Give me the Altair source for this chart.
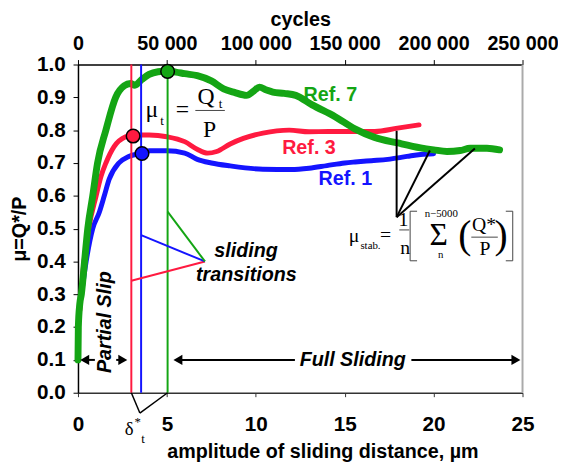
import altair as alt
import pandas as pd

SANS = "Liberation Sans"
SERIF = "Liberation Serif"
GREEN = "#14a514"
RED = "#ff1a40"
BLUE = "#1414ff"

# ---- data (x = amplitude of sliding distance in um, y = mu) ----
green_x = [0, 0.02, 0.1, 0.19, 0.37, 0.55, 0.83, 1.1, 1.57, 2.12, 2.6, 2.95, 3.2, 3.6, 4.0, 4.5,
           5.04, 5.5, 6, 6.71, 7.5, 8.19, 8.8, 9.48, 9.9, 10.2, 10.6, 10.96, 11.6, 12.25, 13.17,
           14.46, 15.57, 16.68, 17.98, 19.27, 20.0, 20.75, 21.5, 22.05, 23.0, 23.71]
green_y = [0.10, 0.2, 0.27, 0.3, 0.4, 0.5, 0.6, 0.7, 0.8, 0.9, 0.935, 0.942, 0.937, 0.955, 0.97,
           0.978, 0.98, 0.977, 0.972, 0.966, 0.95, 0.926, 0.915, 0.906, 0.92, 0.931, 0.922,
           0.916, 0.912, 0.906, 0.877, 0.841, 0.804, 0.778, 0.761, 0.746, 0.74, 0.735, 0.738,
           0.745, 0.745, 0.74]

red_x = [0.1, 0.3, 0.6, 1.02, 1.3, 1.57, 2.03, 2.68, 3.1, 4, 5, 6, 6.7, 7.3, 7.8, 8.56, 9.3,
         10.4, 11.88, 13, 14.1, 15.9, 16.69, 17.97, 19.18]
red_y = [0.25, 0.38, 0.5, 0.6, 0.66, 0.7, 0.75, 0.78, 0.785, 0.785, 0.78, 0.765, 0.742, 0.73,
         0.735, 0.758, 0.775, 0.791, 0.8, 0.795, 0.796, 0.796, 0.796, 0.806, 0.816]

blue_x = [0.2, 0.46, 0.83, 1.2, 1.48, 1.75, 2.3, 2.86, 3.6, 4, 5, 6, 6.71, 7.5, 8.56, 10.4, 12.0,
          13, 14, 15, 15.58, 16.5, 17.42, 18.5, 19.27, 20.0]
blue_y = [0.3, 0.4, 0.5, 0.55, 0.6, 0.65, 0.7, 0.72, 0.73, 0.737, 0.737, 0.73, 0.711, 0.7,
          0.691, 0.681, 0.68, 0.684, 0.692, 0.7, 0.703, 0.707, 0.711, 0.72, 0.726, 0.728]

x_ticks = [0, 5, 10, 15, 20, 25]
y_ticks = [0.0, 0.1, 0.2, 0.3, 0.4, 0.5, 0.6, 0.7, 0.8, 0.9, 1.0]
cycle_ticks = [0, 50000, 100000, 150000, 200000, 250000]

# transition points (delta*_t) and mu_t markers
trans_x = [3.0, 3.55, 5.04]
marker_x = [3.1, 3.6, 5.04]
marker_y = [0.782, 0.729, 0.979]

# ---- shared encodings ----
X = alt.X("x:Q", scale=alt.Scale(domain=[0, 25], nice=False, zero=False),
          axis=alt.Axis(values=x_ticks, format="d", title="amplitude of sliding distance, µm",
                        labelFont=SANS, labelFontSize=21, labelFontWeight="bold", labelColor="black",
                        titleFont=SANS, titleFontSize=20, titleFontWeight="bold", titleColor="black",
                        titleX=248, titlePadding=8, labelPadding=17, tickSize=4, tickColor="#333",
                        domainColor="#333", domainWidth=1.5, grid=False, labelOverlap=False,
                        labelFlush=False))
Y = alt.Y("y:Q", scale=alt.Scale(domain=[0, 1], nice=False),
          axis=alt.Axis(values=y_ticks, format=".1f", title="μ=Q*/P",
                        labelFont=SANS, labelFontSize=21, labelFontWeight="bold", labelColor="black",
                        titleFont=SANS, titleFontSize=20, titleFontWeight="bold", titleColor="black",
                        titlePadding=7, labelPadding=8, tickSize=5, tickColor="black",
                        domainColor="black", domainWidth=1.5, grid=False, labelOverlap=False))


def curve(xs, ys, color, w):
    df = pd.DataFrame({"x": xs, "y": ys})
    return alt.Chart(df).mark_line(color=color, strokeWidth=w, strokeCap="round",
                                   strokeJoin="round", interpolate="monotone").encode(x=X, y=Y)


def txt(rows, size, color="black", font=SANS, weight="bold", style="normal", angle=0, align="center"):
    df = pd.DataFrame(rows, columns=["x", "y", "t"])
    kw = dict(font=font, fontSize=size, fontWeight=weight, fontStyle=style, color=color,
              align=align, baseline="middle")
    if angle:
        kw["angle"] = angle
    return alt.Chart(df).mark_text(**kw).encode(x=X, y=Y, text="t:N")


# ---- line segments ----
seg_rows = [
    # vertical transition lines
    (trans_x[0], 0, trans_x[0], 1.0, RED, 2),
    (trans_x[1], 0, trans_x[1], 1.0, BLUE, 2),
    (trans_x[2], 0, trans_x[2], 0.98, GREEN, 2),
    # sliding transitions pointers
    (7.14, 0.40, trans_x[0], 0.341, RED, 2),
    (7.14, 0.40, trans_x[1], 0.48, BLUE, 2),
    (7.14, 0.40, trans_x[2], 0.552, GREEN, 2),
    # delta*_t pointer below axis
    (trans_x[0], 0, 3.48, -0.062, "black", 1.5),
    (trans_x[2], 0, 3.48, -0.062, "black", 1.5),
    # mu_stab pointers
    (17.92, 0.535, 17.92, 0.798, "black", 2),
    (17.92, 0.535, 19.79, 0.738, "black", 2),
    (17.92, 0.535, 22.32, 0.744, "black", 2),
    # arrows
    (5.6, 0.1, 12.2, 0.1, "black", 2),
    (18.75, 0.1, 24.6, 0.1, "black", 2),
    (0.35, 0.1, 0.95, 0.1, "black", 2),
    (2.15, 0.1, 2.55, 0.1, "black", 2),
    # fraction bars
    (6.6, 0.86, 8.26, 0.86, "#444", 1),
    (18.07, 0.496, 18.63, 0.496, "#444", 1),
    (22.12, 0.474, 23.61, 0.474, "#444", 1),
    # square brackets
    (18.68, 0.553, 18.68, 0.402, "#444", 1),
    (18.68, 0.553, 19.07, 0.553, "#444", 1),
    (18.68, 0.402, 19.07, 0.402, "#444", 1),
    (24.45, 0.553, 24.45, 0.402, "#444", 1),
    (24.06, 0.553, 24.45, 0.553, "#444", 1),
    (24.06, 0.402, 24.45, 0.402, "#444", 1),
    # right frame
    (25, 0, 25, 1.0, "#aaa", 2),
]
segs = pd.DataFrame(seg_rows, columns=["x", "y", "x2", "y2", "c", "w"])
seg_layer = alt.Chart(segs).mark_rule().encode(
    x=X, y=Y, x2="x2:Q", y2="y2:Q",
    color=alt.Color("c:N", scale=None), strokeWidth=alt.StrokeWidth("w:Q", scale=None))

heads = pd.DataFrame({"x": [0.38, 2.52, 5.62, 24.63], "y": [0.1, 0.1, 0.1, 0.1],
                      "s": ["triangle-left", "triangle-right", "triangle-left", "triangle-right"]})
head_layer = alt.Chart(heads).mark_point(filled=True, color="black", opacity=1, size=110).encode(
    x=X, y=Y, shape=alt.Shape("s:N", scale=None))

markers = pd.DataFrame({"x": marker_x, "y": marker_y, "c": [RED, BLUE, GREEN]})
marker_layer = alt.Chart(markers).mark_circle(size=190, stroke="black", strokeWidth=1.5, opacity=1).encode(
    x=X, y=Y, fill=alt.Fill("c:N", scale=None))

texts = [
    txt([(14.19, 0.906, "Ref. 7")], 20, GREEN),
    txt([(12.99, 0.746, "Ref. 3")], 20, RED),
    txt([(15.04, 0.65, "Ref. 1")], 20, BLUE),
    txt([(9.45, 0.432, "sliding"), (9.47, 0.357, "transitions")], 20, style="italic"),
    txt([(15.45, 0.1, "Full Sliding")], 20, style="italic"),
    txt([(1.55, 0.215, "Partial Slip")], 20, style="italic", angle=270),
    # mu_t = Q_t / P
    txt([(4.16, 0.862, "μ"), (5.88, 0.862, "="), (7.2, 0.902, "Q"), (7.4, 0.8, "P")], 24,
        font=SERIF, weight="normal"),
    txt([(4.72, 0.828, "t"), (8.02, 0.88, "t")], 13, font=SERIF, weight="normal"),
    # mu_stab formula
    txt([(15.52, 0.477, "μ"), (17.3, 0.48, "="), (18.3, 0.526, "1"), (18.4, 0.44, "n"),
         (22.84, 0.51, "Q*"), (22.89, 0.437, "P")], 20, font=SERIF, weight="normal"),
    txt([(16.45, 0.447, "stab."), (20.43, 0.545, "n−5000"), (20.4, 0.42, "n")], 11,
        font=SERIF, weight="normal"),
    txt([(20.29, 0.48, "Σ")], 32, font=SERIF, weight="normal"),
    txt([(21.75, 0.477, "("), (23.8, 0.477, ")")], 40, font=SERIF, weight="normal"),
    # delta*_t
    txt([(2.88, -0.11, "δ")], 19, font=SERIF, weight="normal"),
    txt([(3.36, -0.088, "*"), (3.66, -0.14, "t")], 13, font=SERIF, weight="normal"),
]

main = alt.layer(
    curve(blue_x, blue_y, BLUE, 5),
    curve(red_x, red_y, RED, 5),
    curve(green_x, green_y, GREEN, 7),
    seg_layer, head_layer, marker_layer, *texts)

top = alt.Chart(pd.DataFrame({"c": [0, 250000], "y": [0, 0]})).mark_point(opacity=0).encode(
    x=alt.X("c:Q", scale=alt.Scale(domain=[0, 250000], nice=False, zero=False),
            axis=alt.Axis(orient="top", values=cycle_ticks, title="cycles",
                          labelExpr="replace(format(datum.value, ','), ',', ' ')",
                          labelFont=SANS, labelFontSize=20, labelFontWeight="bold", labelColor="black",
                          titleFont=SANS, titleFontSize=20, titleFontWeight="bold", titleColor="black",
                          titlePadding=5, labelPadding=6, tickSize=5, tickColor="black",
                          domainColor="black", domainWidth=1.5, grid=False, labelOverlap=False,
                          labelFlush=False)),
    y=Y)

chart = alt.layer(main, top).resolve_scale(x="independent").properties(
    width=451, height=333,
    autosize=alt.AutoSizeParams(type="none"),
    padding={"left": 71, "top": 54, "right": 36, "bottom": 71},
).configure_view(stroke=None)

chart.save("out.html", embed_options={"renderer": "svg", "actions": False})
